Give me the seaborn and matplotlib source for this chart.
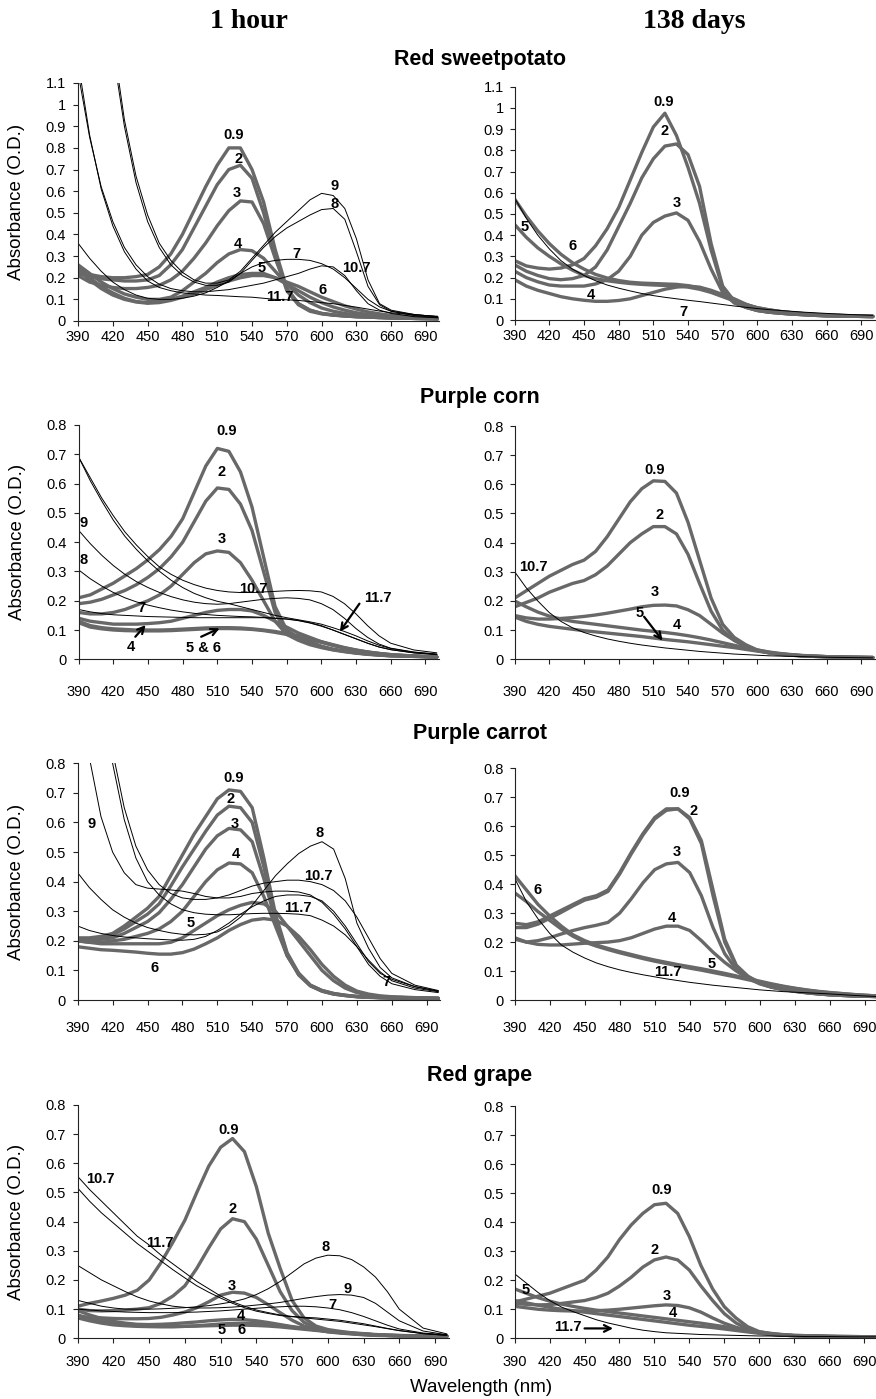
import matplotlib
matplotlib.use("Agg")
import matplotlib.pyplot as plt
from matplotlib.ticker import FuncFormatter
import seaborn as sns

sns.set_style("ticks")
plt.rcParams["font.family"] = ["Liberation Sans", "DejaVu Sans"]
plt.rcParams.update({"text.color": "black", "axes.labelcolor": "black",
                     "xtick.color": "black", "ytick.color": "black"})

# wavelength grid (nm)
wavelength = [390, 400, 410, 420, 430, 440, 450, 460, 470, 480,
              490, 500, 510, 520, 530, 540, 550, 560, 570, 580,
              590, 600, 610, 620, 630, 640, 650, 660, 680, 700]

# ---- Red sweetpotato ----
rs_1h = {
    "0.9": [.23, .215, .205, .20, .20, .205, .215, .25, .31, .40,
            .51, .62, .72, .80, .80, .70, .55, .33, .15, .08,
            .05, .035, .028, .024, .02, .018, .016, .014, .012, .01],
    "2": [.22, .205, .195, .19, .185, .185, .19, .21, .26, .33,
          .43, .53, .63, .70, .72, .66, .50, .30, .14, .075,
          .045, .033, .027, .023, .02, .018, .016, .014, .012, .01],
    "3": [.21, .18, .165, .155, .15, .15, .155, .165, .19, .23,
          .29, .36, .44, .51, .555, .55, .45, .29, .15, .08,
          .05, .035, .028, .023, .02, .018, .016, .014, .012, .01],
    "4": [.26, .22, .18, .15, .125, .11, .10, .10, .11, .14,
          .18, .22, .27, .31, .33, .325, .29, .23, .17, .12,
          .085, .06, .045, .035, .028, .022, .018, .015, .012, .01],
    "5": [.25, .20, .16, .13, .105, .09, .085, .09, .10, .115,
          .135, .155, .18, .20, .215, .22, .22, .20, .17, .14,
          .11, .085, .065, .05, .038, .03, .024, .02, .015, .012],
    "6": [.24, .19, .15, .12, .10, .088, .082, .085, .095, .11,
          .125, .145, .165, .185, .20, .21, .21, .20, .18, .16,
          .135, .11, .09, .07, .055, .042, .033, .026, .018, .014],
    "7": [.36, .29, .23, .18, .145, .12, .105, .10, .10, .105,
          .115, .13, .155, .185, .22, .25, .27, .28, .285, .285,
          .28, .265, .24, .20, .15, .10, .065, .045, .025, .015],
    "8": [3.0, 2.3, 1.7, 1.25, .90, .64, .46, .34, .26, .21,
          .18, .165, .165, .18, .22, .28, .34, .39, .43, .46,
          .49, .515, .52, .47, .32, .16, .075, .045, .03, .02],
    "9": [3.1, 2.4, 1.75, 1.3, .93, .67, .49, .36, .28, .225,
          .19, .175, .175, .19, .23, .29, .35, .41, .46, .51,
          .56, .59, .58, .52, .38, .19, .08, .05, .03, .02],
    "10.7": [1.15, .85, .62, .46, .34, .26, .205, .17, .15, .14,
             .135, .135, .14, .145, .155, .165, .175, .19, .205, .22,
             .24, .255, .25, .21, .14, .08, .05, .035, .02, .015],
    "11.7": [1.2, .86, .61, .44, .32, .24, .185, .155, .14, .13,
             .125, .12, .118, .115, .112, .11, .105, .10, .098, .095,
             .09, .085, .08, .072, .064, .055, .046, .038, .028, .022],
}
rs_1h_labels = [("0.9", 524, .86), ("2", 528, .75), ("3", 527, .59), ("4", 528, .355),
                ("5", 548, .245), ("6", 601, .145), ("7", 578, .31), ("9", 611, .625),
                ("8", 611, .54), ("10.7", 630, .245), ("11.7", 564, .11)]

rs_138d = {
    "0.9": [.28, .255, .245, .24, .245, .26, .29, .35, .43, .53,
            .66, .79, .91, .975, .87, .72, .55, .33, .15, .085,
            .06, .045, .037, .032, .028, .025, .022, .02, .018, .016],
    "2": [.26, .23, .21, .195, .19, .195, .21, .25, .33, .44,
          .55, .67, .76, .82, .83, .78, .63, .36, .16, .09,
          .06, .045, .037, .032, .028, .025, .022, .02, .018, .016],
    "3": [.23, .20, .18, .165, .16, .16, .16, .17, .19, .23,
          .30, .40, .46, .49, .505, .47, .37, .24, .13, .08,
          .06, .045, .037, .032, .028, .025, .022, .02, .018, .016],
    "4": [.19, .16, .14, .125, .11, .10, .093, .088, .088, .092,
          .10, .115, .13, .145, .155, .16, .155, .14, .12, .10,
          .075, .055, .042, .035, .03, .026, .023, .02, .018, .016],
    "5": [.45, .39, .34, .30, .265, .235, .21, .195, .185, .178,
          .172, .168, .165, .163, .16, .155, .145, .13, .11, .09,
          .072, .058, .048, .04, .034, .03, .026, .023, .02, .018],
    "6": [.57, .49, .42, .36, .31, .27, .24, .215, .198, .186,
          .178, .174, .172, .17, .168, .162, .15, .133, .113, .092,
          .073, .058, .048, .04, .034, .03, .026, .023, .02, .018],
    "7": [.575, .48, .40, .335, .28, .24, .21, .185, .165, .15,
          .137, .125, .115, .107, .10, .093, .087, .08, .073, .066,
          .06, .054, .049, .045, .041, .037, .034, .031, .026, .022],
}
rs_138d_labels = [("0.9", 519, 1.03), ("2", 520, .89), ("3", 530, .55), ("5", 399, .44),
                  ("6", 440, .35), ("4", 456, .12), ("7", 536, .04)]

# ---- Purple corn ----
pc_1h = {
    "0.9": [.21, .22, .24, .26, .285, .31, .34, .375, .42, .48,
            .57, .66, .72, .71, .64, .52, .35, .18, .10, .075,
            .06, .045, .035, .028, .022, .018, .015, .012, .01, .008],
    "2": [.19, .195, .205, .22, .235, .255, .28, .31, .35, .40,
          .47, .54, .585, .58, .53, .44, .30, .16, .09, .07,
          .055, .042, .033, .027, .022, .018, .015, .012, .01, .008],
    "3": [.16, .155, .155, .16, .17, .185, .20, .22, .25, .29,
          .33, .36, .37, .365, .33, .27, .20, .13, .085, .065,
          .05, .04, .032, .026, .021, .017, .014, .012, .01, .008],
    "4": [.14, .13, .125, .12, .12, .12, .122, .125, .13, .14,
          .15, .16, .167, .17, .17, .165, .15, .13, .11, .09,
          .075, .06, .048, .038, .03, .024, .019, .015, .011, .008],
    "5": [.13, .115, .108, .104, .102, .10, .10, .10, .101, .103,
          .105, .107, .108, .108, .107, .104, .10, .095, .088, .08,
          .07, .06, .05, .04, .032, .025, .02, .016, .011, .008],
    "6": [.125, .11, .104, .10, .098, .097, .097, .097, .098, .10,
          .102, .104, .105, .105, .104, .102, .098, .092, .085, .077,
          .068, .058, .048, .039, .031, .025, .02, .016, .011, .008],
    "7": [.17, .162, .156, .152, .15, .148, .146, .145, .144, .143,
          .142, .142, .142, .142, .142, .142, .142, .14, .138, .133,
          .125, .115, .10, .085, .07, .055, .042, .033, .022, .016],
    "8": [.305, .275, .25, .228, .21, .196, .185, .176, .168, .162,
          .157, .153, .15, .148, .146, .145, .143, .14, .137, .132,
          .124, .113, .10, .085, .07, .055, .042, .033, .022, .016],
    "9": [.44, .395, .355, .32, .29, .265, .245, .228, .214, .203,
          .195, .19, .188, .19, .195, .20, .205, .208, .21, .208,
          .203, .19, .17, .14, .105, .075, .052, .038, .025, .018],
    "10.7": [.69, .62, .55, .49, .435, .39, .35, .315, .29, .27,
             .255, .243, .235, .23, .228, .228, .23, .232, .234, .235,
             .234, .23, .215, .19, .155, .115, .08, .055, .032, .022],
    "11.7": [.69, .61, .54, .475, .42, .375, .335, .30, .27, .245,
             .225, .21, .198, .19, .18, .17, .16, .15, .142, .135,
             .128, .12, .108, .095, .08, .063, .048, .037, .024, .017],
}
pc_1h_labels = [("0.9", 518, .78), ("2", 514, .64), ("3", 514, .41), ("9", 394, .465),
                ("8", 394, .34), ("10.7", 541, .24), ("7", 444, .175), ("11.7", 649, .21),
                ("4", 435, .043), ("5 & 6", 498, .038)]
pc_1h_arrows = [((633, .19), (616, .094)), ((439, .077), (448, .117)), ((496, .077), (512, .106))]

pc_138d = {
    "0.9": [.21, .235, .26, .285, .305, .325, .34, .37, .42, .48,
            .54, .585, .612, .61, .57, .47, .34, .21, .12, .075,
            .05, .032, .024, .018, .015, .012, .01, .009, .007, .006],
    "2": [.18, .195, .21, .23, .245, .26, .27, .29, .32, .36,
          .40, .43, .455, .455, .43, .36, .26, .165, .10, .065,
          .045, .03, .022, .017, .014, .011, .01, .009, .007, .006],
    "3": [.15, .142, .138, .138, .14, .143, .147, .152, .158, .165,
          .172, .18, .185, .186, .183, .17, .15, .12, .09, .065,
          .045, .03, .022, .017, .014, .011, .01, .009, .007, .006],
    "4": [.20, .18, .162, .148, .138, .13, .125, .12, .115, .11,
          .105, .10, .096, .092, .087, .081, .074, .066, .057, .048,
          .04, .032, .025, .02, .016, .013, .011, .009, .007, .006],
    "5": [.145, .13, .12, .113, .108, .103, .098, .094, .09, .086,
          .082, .078, .073, .068, .064, .06, .055, .05, .045, .04,
          .034, .028, .023, .018, .015, .012, .01, .009, .007, .006],
    "10.7": [.30, .245, .20, .16, .13, .108, .092, .08, .07, .062,
             .055, .049, .044, .039, .035, .031, .027, .024, .021, .018,
             .016, .014, .012, .011, .01, .009, .008, .007, .006, .005],
}
pc_138d_labels = [("0.9", 511, .65), ("2", 515, .495), ("3", 511, .23), ("5", 498, .16),
                  ("4", 530, .118), ("10.7", 406, .318)]
pc_138d_arrows = [((502, .146), (518, .064))]

# ---- Purple carrot ----
pca_1h = {
    "0.9": [.21, .21, .215, .225, .25, .28, .31, .35, .42, .49,
            .56, .62, .68, .71, .705, .65, .48, .29, .16, .09,
            .05, .032, .022, .016, .012, .01, .008, .007, .006, .005],
    "2": [.205, .205, .21, .22, .24, .265, .29, .325, .385, .45,
          .51, .57, .625, .655, .65, .60, .45, .28, .155, .085,
          .048, .03, .02, .015, .011, .009, .008, .007, .006, .005],
    "3": [.20, .20, .205, .21, .225, .245, .265, .295, .34, .39,
          .45, .51, .555, .58, .575, .535, .41, .27, .15, .085,
          .048, .03, .02, .015, .011, .009, .008, .007, .006, .005],
    "4": [.20, .195, .195, .20, .205, .215, .225, .24, .265, .30,
          .35, .40, .44, .463, .46, .43, .35, .25, .15, .09,
          .05, .032, .022, .016, .012, .01, .008, .007, .006, .005],
    "5": [.20, .195, .19, .19, .19, .19, .19, .19, .195, .21,
          .235, .26, .285, .305, .32, .33, .325, .30, .25, .20,
          .15, .10, .065, .04, .025, .017, .012, .01, .007, .006],
    "6": [.18, .175, .17, .168, .165, .162, .158, .155, .155, .16,
          .172, .19, .21, .235, .255, .27, .275, .27, .25, .215,
          .17, .12, .08, .05, .03, .02, .014, .011, .008, .006],
    "7": [.25, .235, .225, .218, .213, .21, .207, .205, .203, .202,
          .205, .215, .235, .26, .29, .315, .335, .35, .355, .355,
          .35, .335, .30, .25, .19, .13, .09, .07, .045, .03],
    "8": [.43, .38, .34, .305, .28, .26, .245, .235, .227, .222,
          .22, .222, .23, .25, .28, .32, .37, .42, .46, .495,
          .52, .535, .51, .41, .26, .175, .11, .075, .045, .03],
    "9": [1.3, .82, .62, .50, .43, .39, .378, .375, .372, .368,
          .36, .35, .345, .345, .35, .36, .365, .368, .368, .365,
          .355, .33, .29, .24, .18, .12, .08, .055, .035, .025],
    "10.7": [2.0, 1.5, 1.1, .84, .65, .52, .44, .39, .36, .345,
             .34, .34, .345, .355, .37, .385, .395, .40, .405, .405,
             .40, .39, .37, .335, .28, .21, .14, .09, .05, .032],
    "11.7": [1.9, 1.4, 1.05, .80, .61, .48, .40, .355, .325, .305,
             .295, .29, .288, .288, .29, .292, .293, .293, .292, .29,
             .285, .27, .25, .22, .18, .135, .095, .065, .04, .028],
}
pca_1h_labels = [("0.9", 524, .75), ("2", 521, .68), ("3", 525, .595), ("4", 526, .493),
                 ("9", 402, .595), ("8", 598, .563), ("10.7", 597, .42), ("11.7", 579, .31),
                 ("5", 487, .26), ("6", 456, .107), ("7", 655, .062)]

pca_138d = {
    "0.9": [.265, .26, .27, .29, .31, .33, .35, .36, .38, .44,
            .51, .575, .63, .66, .66, .625, .54, .36, .20, .115,
            .08, .058, .045, .037, .03, .025, .021, .018, .014, .012],
    "2": [.25, .25, .262, .282, .303, .325, .345, .355, .375, .435,
          .505, .57, .625, .655, .66, .63, .55, .38, .21, .12,
          .082, .06, .046, .038, .031, .026, .022, .019, .015, .012],
    "3": [.21, .20, .205, .215, .228, .24, .25, .258, .268, .30,
          .35, .405, .45, .47, .475, .44, .36, .25, .16, .105,
          .075, .056, .044, .036, .03, .025, .021, .018, .014, .012],
    "4": [.215, .20, .192, .19, .19, .193, .196, .198, .20, .205,
          .215, .23, .245, .255, .255, .24, .205, .165, .13, .10,
          .075, .057, .045, .037, .031, .026, .022, .018, .014, .012],
    "5": [.43, .38, .33, .29, .255, .225, .205, .19, .178, .167,
          .157, .147, .138, .13, .122, .115, .108, .10, .092, .083,
          .074, .065, .056, .048, .041, .035, .03, .026, .019, .014],
    "6": [.37, .34, .305, .275, .245, .22, .20, .186, .174, .163,
          .153, .143, .134, .126, .118, .11, .103, .095, .087, .079,
          .07, .062, .054, .046, .04, .034, .029, .025, .019, .014],
    "11.7": [.42, .34, .28, .23, .19, .165, .145, .128, .115, .104,
             .095, .087, .08, .073, .067, .061, .056, .051, .047, .043,
             .039, .035, .032, .029, .027, .025, .023, .021, .016, .012],
}
pca_138d_labels = [("0.9", 531, .713), ("2", 543, .652), ("3", 529, .51), ("4", 525, .282),
                   ("6", 410, .38), ("5", 559, .124), ("11.7", 521, .098)]

# ---- Red grape ----
rg_1h = {
    "0.9": [.11, .12, .128, .137, .148, .165, .20, .26, .33, .405,
            .50, .59, .655, .685, .64, .52, .36, .24, .13, .07,
            .042, .03, .024, .019, .016, .013, .011, .01, .008, .007],
    "2": [.10, .095, .094, .095, .097, .10, .105, .12, .145, .18,
          .24, .31, .375, .41, .40, .34, .25, .16, .095, .055,
          .035, .025, .02, .016, .013, .011, .01, .009, .008, .007],
    "3": [.075, .072, .07, .068, .067, .067, .068, .072, .08, .09,
          .105, .125, .148, .158, .155, .14, .115, .088, .062, .042,
          .03, .022, .018, .015, .012, .01, .009, .008, .007, .006],
    "4": [.095, .08, .068, .058, .052, .048, .047, .048, .05, .053,
          .056, .06, .063, .065, .064, .06, .054, .047, .04, .034,
          .029, .024, .02, .017, .014, .012, .01, .009, .008, .007],
    "5": [.07, .06, .052, .046, .043, .041, .04, .04, .04, .041,
          .042, .043, .044, .045, .045, .044, .042, .039, .035, .031,
          .027, .023, .02, .017, .014, .012, .01, .009, .008, .007],
    "6": [.08, .068, .058, .051, .046, .043, .041, .04, .04, .041,
          .043, .046, .049, .051, .052, .051, .048, .044, .039, .034,
          .029, .025, .021, .018, .015, .012, .01, .009, .008, .007],
    "7": [.10, .097, .094, .092, .09, .089, .088, .088, .088, .089,
          .09, .092, .094, .097, .10, .103, .106, .108, .11, .11,
          .108, .104, .098, .088, .075, .06, .045, .032, .018, .012],
    "8": [.13, .12, .11, .104, .10, .10, .10, .101, .103, .105,
          .108, .112, .118, .125, .135, .15, .17, .195, .225, .255,
          .275, .285, .283, .27, .245, .21, .16, .10, .035, .015],
    "9": [.25, .225, .20, .18, .16, .142, .128, .118, .11, .106,
          .104, .104, .105, .107, .11, .114, .118, .123, .13, .137,
          .143, .148, .15, .148, .14, .12, .09, .06, .025, .012],
    "10.7": [.555, .51, .47, .43, .39, .35, .32, .285, .255, .225,
             .195, .17, .145, .125, .11, .097, .088, .08, .075, .072,
             .07, .066, .062, .056, .05, .042, .034, .027, .016, .01],
    "11.7": [.515, .47, .43, .395, .36, .325, .295, .265, .235, .207,
             .18, .158, .138, .12, .105, .093, .085, .078, .074, .07,
             .066, .062, .058, .052, .046, .04, .033, .026, .016, .01],
}
rg_1h_labels = [("0.9", 517, .714), ("2", 520, .443), ("3", 519, .18), ("4", 527, .077),
                ("5", 511, .029), ("6", 528, .029), ("10.7", 409, .545), ("11.7", 459, .328),
                ("8", 598, .312), ("9", 617, .168), ("7", 604, .114)]

rg_138d = {
    "0.9": [.125, .135, .145, .155, .17, .185, .20, .235, .28, .34,
            .39, .43, .46, .465, .43, .35, .25, .17, .109, .07,
            .04, .023, .016, .012, .01, .009, .008, .007, .006, .005],
    "2": [.12, .117, .115, .116, .12, .125, .13, .14, .155, .18,
          .21, .245, .27, .28, .27, .235, .18, .13, .085, .053,
          .032, .02, .014, .011, .009, .008, .007, .006, .005, .005],
    "3": [.11, .105, .10, .097, .095, .094, .094, .095, .097, .10,
          .104, .108, .112, .115, .113, .105, .09, .07, .052, .038,
          .027, .019, .014, .011, .009, .008, .007, .006, .005, .005],
    "4": [.13, .122, .114, .107, .10, .095, .09, .085, .08, .075,
          .07, .065, .06, .055, .05, .045, .041, .037, .032, .027,
          .022, .017, .013, .011, .009, .008, .007, .006, .005, .005],
    "5": [.17, .155, .14, .128, .118, .11, .103, .097, .092, .087,
          .082, .077, .072, .067, .062, .057, .052, .046, .04, .034,
          .028, .022, .017, .013, .01, .009, .008, .007, .006, .005],
    "11.7": [.222, .19, .158, .13, .108, .092, .078, .064, .053, .044,
             .035, .028, .023, .019, .017, .015, .013, .012, .011, .01,
             .009, .008, .008, .007, .007, .006, .006, .006, .005, .005],
}
rg_138d_labels = [("0.9", 516, .511), ("2", 510, .304), ("3", 521, .146), ("4", 526, .086),
                  ("5", 399, .166), ("11.7", 436, .04)]
rg_138d_arrows = [((450, .034), (474.5, .034))]

row_titles = ["Red sweetpotato", "Purple corn", "Purple carrot", "Red grape"]

W, H = 876, 1399
XMAX = 701.5
THICK = "#686868"

fig = plt.figure(figsize=(W / 100, H / 100), dpi=100)


def draw_panel(geom, curves, labels, ymax, arrows, xlab_off, left_col):
    x390, x690, y0, ytop = geom
    ppn = (x690 - x390) / 300
    x_end = x390 + ppn * (XMAX - 390)
    ax = fig.add_axes([x390 / W, 1 - y0 / H, (x_end - x390) / W, (y0 - ytop) / H])

    # thick grey lines for acidic pH, thin black ones for pH >= 7
    for ph, vals in curves.items():
        if float(ph) < 7:
            sns.lineplot(x=wavelength, y=vals, ax=ax, color=THICK, linewidth=2.4,
                         solid_capstyle="round", solid_joinstyle="round")
    for ph, vals in curves.items():
        if float(ph) >= 7:
            sns.lineplot(x=wavelength, y=vals, ax=ax, color="black", linewidth=0.7)

    for txt, x, y in labels:
        ax.text(x, y, txt, ha="center", va="center", fontsize=10.5, fontweight="bold")
    for tail, tip in arrows:
        ax.annotate("", xy=tip, xytext=tail,
                    arrowprops=dict(arrowstyle="->", lw=1.6, color="black",
                                    shrinkA=0, shrinkB=0, mutation_scale=12))

    ax.set_xlim(390, XMAX)
    ax.set_ylim(0, ymax)
    ax.set_xticks(range(390, 691, 30))
    n = int(round(ymax * 10))
    ax.set_yticks([i / 10 for i in range(n + 1)])
    ax.yaxis.set_major_formatter(FuncFormatter(lambda v, p: f"{v:g}"))
    ax.set_xlabel("")
    ax.set_ylabel("")
    sns.despine(ax=ax)
    for s in ["left", "bottom"]:
        ax.spines[s].set_linewidth(0.8)
        ax.spines[s].set_color("#222222")
    pad_x = (xlab_off - 4 - 7.3) * 0.72
    ax.tick_params(axis="x", direction="out", length=3.6, width=0.8, pad=pad_x,
                   labelsize=10.5, colors="#222222", labelcolor="black")
    ax.tick_params(axis="y", direction="out", length=3.6, width=0.8,
                   pad=5 if left_col else 4.3, labelsize=10.5,
                   colors="#222222", labelcolor="black")
    if left_col:
        ax.set_ylabel("Absorbance (O.D.)", fontsize=13.5, labelpad=9)
    return ax


rows = [
    ((78, 426, 321, 83), (514.7, 861.3, 320, 86.7), rs_1h, rs_1h_labels, [],
     rs_138d, rs_138d_labels, [], 1.1, 15),
    ((78.7, 425.3, 659.3, 425), (514.7, 861.3, 659.3, 426), pc_1h, pc_1h_labels, pc_1h_arrows,
     pc_138d, pc_138d_labels, pc_138d_arrows, 0.8, 32),
    ((77.7, 426.7, 1000, 763.3), (514.7, 864.7, 1000, 768.3), pca_1h, pca_1h_labels, [],
     pca_138d, pca_138d_labels, [], 0.8, 27),
    ((77.7, 435, 1338.3, 1105), (514.7, 864, 1338.3, 1106), rg_1h, rg_1h_labels, [],
     rg_138d, rg_138d_labels, rg_138d_arrows, 0.8, 23),
]

for gl, gr, c1, l1, a1, c2, l2, a2, ymax, off in rows:
    axl = draw_panel(gl, c1, l1, ymax, a1, off, True)
    axl.yaxis.set_label_coords(-(78 - 25) / (gl[1] - gl[0]) * 300 / (XMAX - 390), 0.5)
    draw_panel(gr, c2, l2, ymax, a2, off, False)

title_y = [60, 397, 733, 1075]
for t, y in zip(row_titles, title_y):
    fig.text(480 / W, 1 - y / H, t, ha="center", va="center", fontsize=15.5, fontweight="bold")

fig.text(249 / W, 1 - 21 / H, "1 hour", ha="center", va="center", fontsize=20,
         fontweight="bold", family=["Liberation Serif", "DejaVu Serif"])
fig.text(694 / W, 1 - 21 / H, "138 days", ha="center", va="center", fontsize=20,
         fontweight="bold", family=["Liberation Serif", "DejaVu Serif"])
fig.text(481 / W, 1 - 1387 / H, "Wavelength (nm)", ha="center", va="center", fontsize=13.5)

fig.savefig("out.png", dpi=100, facecolor="white")
